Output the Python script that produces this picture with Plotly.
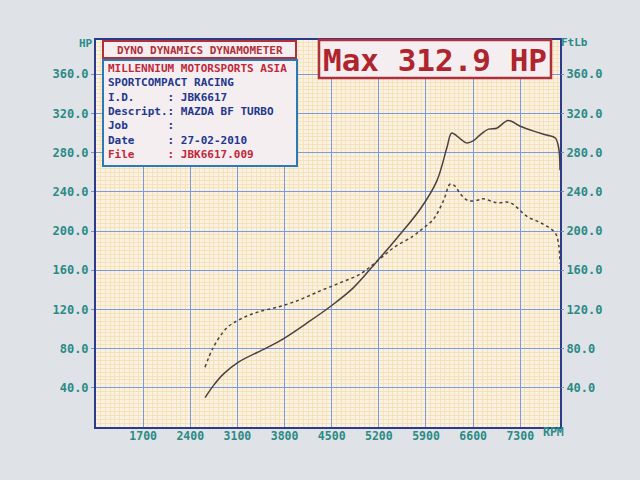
import plotly.graph_objects as go

# ---- data ----
power_rpm = [2620, 2740, 2890, 3110, 3540, 3780, 4130, 4480, 4820, 5170, 5470, 5810,
             6060, 6210, 6280, 6360, 6500, 6600, 6700, 6830, 6950, 7120, 7300, 7500,
             7690, 7820, 7870, 7890]
power_hp = [30, 42, 54, 66, 81, 90, 106, 123, 142, 169, 193, 222,
            251, 285, 300, 297, 290, 292, 298, 304, 305, 312.9, 307, 302,
            298, 295, 285, 262]

torque_rpm = [2620, 2740, 2940, 3140, 3390, 3730, 4030, 4330, 4620, 4920, 5170, 5420,
              5710, 5860, 6010, 6160, 6260, 6330, 6410, 6530, 6700, 6750, 6950, 7150,
              7400, 7640, 7820, 7870, 7890]
torque_ftlb = [61, 81, 101, 110, 117, 123, 130, 139, 147, 156, 169, 183,
               195, 203, 212, 231, 248, 246, 238, 231, 232, 233, 229, 229,
               215, 207, 198, 186, 167]

x_ticks = [1700, 2400, 3100, 3800, 4500, 5200, 5900, 6600, 7300]
y_ticks = [40, 80, 120, 160, 200, 240, 280, 320, 360]
y_tick_text = ["%.1f" % v for v in y_ticks]

info_lines = [
    ("MILLENNIUM MOTORSPORTS ASIA", "#c0283a"),
    ("SPORTCOMPACT RACING", "#23378c"),
    ("I.D.     : JBK6617", "#23378c"),
    ("Descript.: MAZDA BF TURBO", "#23378c"),
    ("Job      :", "#23378c"),
    ("Date     : 27-02-2010", "#23378c"),
    ("File     : JBK6617.009", "#c0283a"),
]
header_text = "DYNO DYNAMICS DYNAMOMETER"
max_text = "Max 312.9 HP"

# ---- geometry helpers (pixel -> paper) ----
W, H = 640, 480
L, R, T, B = 96, 560, 40, 427
def px(x):
    return (x - L) / (R - L)
def py(y):
    return (B - y) / (B - T)

MONO = "DejaVu Sans Mono"
TEAL = "#2b8a86"
NAVY = "#2c3a8a"
CURVE = "#4a4242"
BG = "#dfe3e8"

fig = go.Figure()
fig.add_trace(go.Scatter(x=power_rpm, y=power_hp, mode="lines",
                         line=dict(color=CURVE, width=1.5), line_shape="spline",
                         showlegend=False, hoverinfo="skip"))
fig.add_trace(go.Scatter(x=torque_rpm, y=torque_ftlb, mode="lines", yaxis="y2",
                         line=dict(color=CURVE, width=1.5, dash="dot"), line_shape="spline",
                         showlegend=False, hoverinfo="skip"))

tickfont = dict(family=MONO, size=12, color=TEAL, weight="bold")
yrange = [0, 395]
common_y = dict(range=yrange, tickvals=y_ticks, ticktext=y_tick_text, tickfont=tickfont,
                ticks="outside", ticklen=3, tickcolor="#6f92cf", zeroline=False,
                fixedrange=True)

fig.update_layout(
    width=W, height=H,
    margin=dict(l=L, r=W - R, t=T, b=H - B),
    paper_bgcolor=BG,
    plot_bgcolor="#faf1e4",
    xaxis=dict(range=[1000, 7890], tickvals=x_ticks, ticktext=[str(v) for v in x_ticks],
               tickfont=dict(family=MONO, size=11.5, color=TEAL, weight="bold"),
               ticklabelstandoff=-3,
               showgrid=True, gridcolor="#7a9bd6", gridwidth=1,
               minor=dict(dtick=70, tick0=1000, showgrid=True, gridcolor="#f3e3b6", gridwidth=1),
               showline=True, linecolor=NAVY, linewidth=2, mirror=True,
               ticks="", zeroline=False, fixedrange=True),
    yaxis=dict(**common_y, side="left", showgrid=True, gridcolor="#7a9bd6", gridwidth=1,
               minor=dict(dtick=4, tick0=0, showgrid=True, gridcolor="#f3e3b6", gridwidth=1),
               showline=True, linecolor=NAVY, linewidth=2, mirror=True),
    yaxis2=dict(**common_y, side="right", overlaying="y", showgrid=False,
                showline=False),
)

fill = "#f4eef0"
shapes = [
    dict(type="rect", xref="paper", yref="paper", x0=px(103), x1=px(296), y0=py(58), y1=py(41),
         line=dict(color="#b0303a", width=2), fillcolor=fill, layer="above"),
    dict(type="rect", xref="paper", yref="paper", x0=px(103), x1=px(297), y0=py(166), y1=py(60),
         line=dict(color="#2a7ab8", width=2), fillcolor=fill, layer="above"),
    dict(type="rect", xref="paper", yref="paper", x0=px(319), x1=px(551), y0=py(78), y1=py(40),
         line=dict(color="#b0303a", width=2.5), fillcolor=fill, layer="above"),
]
fig.update_layout(shapes=shapes)

ann = []
ann.append(dict(x=px(199.5), y=py(50), text=header_text, xanchor="center", yanchor="middle",
                font=dict(family=MONO, size=11, color="#b0303a", weight="bold")))
for i, (t, c) in enumerate(info_lines):
    ann.append(dict(x=px(106), y=py(68.5 + 14.3 * i), text=t.replace(" ", "\u00a0"),
                    xanchor="left", yanchor="middle",
                    font=dict(family=MONO, size=11, color=c, weight="bold")))
ann.append(dict(x=px(435), y=py(60), text=max_text.replace(" ", "\u00a0"),
                xanchor="center", yanchor="middle",
                font=dict(family=MONO, size=31, color="#b0242e", weight="bold")))
ann.append(dict(x=px(86), y=py(43), text="HP", xanchor="center", yanchor="middle",
                font=dict(family=MONO, size=11, color=TEAL, weight="bold")))
ann.append(dict(x=px(574), y=py(42), text="FtLb", xanchor="center", yanchor="middle",
                font=dict(family=MONO, size=11, color=TEAL, weight="bold")))
ann.append(dict(x=px(553), y=py(432), text="RPM", xanchor="center", yanchor="middle",
                font=dict(family=MONO, size=11.5, color=TEAL, weight="bold")))
for a in ann:
    a.update(xref="paper", yref="paper", showarrow=False)
fig.update_layout(annotations=ann)

fig.write_html("out.html", config={"displayModeBar": False},
               post_script="document.body.style.margin='0';document.body.style.background='%s';" % BG)
